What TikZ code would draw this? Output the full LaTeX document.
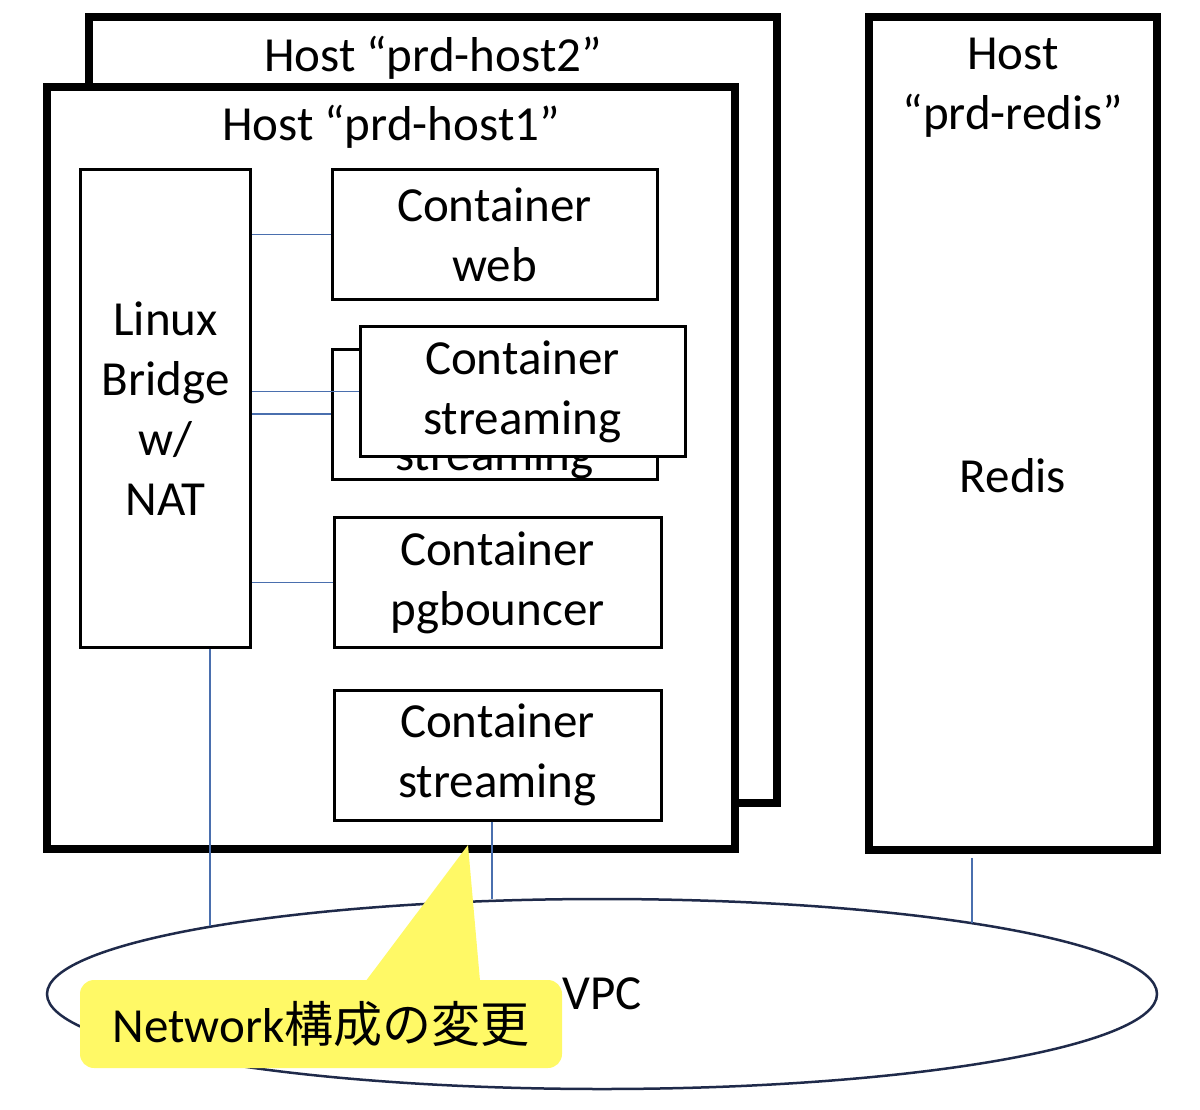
\documentclass[tikz,border=0pt]{standalone}
\usepackage{fontspec}
\setmainfont{Carlito}
\newfontfamily\jpfont{Noto Sans CJK JP}
\usetikzlibrary{positioning,shapes.geometric}
\definecolor{linkblue}{HTML}{4A6FAE}
\definecolor{vpcnavy}{HTML}{1F2A4A}
\definecolor{noteyellow}{HTML}{FFF966}

\begin{document}
\begin{tikzpicture}[x=1pt,y=-1pt,font=\fontsize{49}{60}\selectfont,
  hostbox/.style={draw,line width=7.5pt,fill=white,inner sep=0pt},
  ctrbox/.style={draw,line width=3pt,fill=white,align=center,inner sep=0pt,minimum width=325pt,minimum height=130pt},
  link/.style={draw=linkblue,line width=1.8pt}]
\useasboundingbox (0,0) rectangle (1200,1109);
% hosts
\node[hostbox,minimum width=688pt,minimum height=786pt] (host2) at (433,410) {};
\node (host2lbl) at (433,58) {Host “prd-host2”};
\node[hostbox,minimum width=688pt,minimum height=762pt] (host1) at (391,468) {};
\node (host1lbl) at (391,127) {Host “prd-host1”};
\node[hostbox,minimum width=288pt,minimum height=833pt] (redis) at (1013,433.5) {};
\node[align=center] (redislbl) at (1013,88) {Host\\“prd-redis”};
\node (redisapp) at (1013,476) {Redis};
% bridge and containers
\node[ctrbox,minimum width=170pt,minimum height=478pt] (bridge) at (165.5,408.5) {Linux\\Bridge\\w/\\NAT};
\node[ctrbox] (web) at (494.5,234.5) {Container\\web};
\node[ctrbox] (streamback) at (494.5,414) {};
\node[align=center] (streambacklbl) at (494.5,428) {Container\\streaming};
\node[ctrbox] (streamfront) at (522.5,391.5) {Container\\streaming};
\node[ctrbox,minimum width=327pt] (pgb) at (497.5,582.5) {Container\\pgbouncer};
\node[ctrbox,minimum width=327pt] (streambot) at (497.5,755) {Container\\streaming};
% vpc
\node[draw=vpcnavy,line width=2.5pt,ellipse,minimum width=1110pt,minimum height=190pt,inner sep=0pt] (vpc) at (602,994) {VPC};
\coordinate (vpcA) at (210,926);
\coordinate (vpcB) at (492,899);
\coordinate (vpcC) at (972,923);
% links
\draw[link] (bridge.east |- web.west) -- (web.west);
\draw[link] (bridge.east |- streamfront.west) -- (streamfront.west);
\draw[link] (bridge.east |- streamback.west) -- (streamback.west);
\draw[link] (bridge.east |- pgb.west) -- (pgb.west);
\draw[link] (bridge.south -| vpcA) -- (vpcA);
\draw[link] (streambot.south -| vpcB) -- (vpcB);
\draw[link,shorten <=4pt] (redis.south -| vpcC) -- (vpcC);
% callout
\node[fill=noteyellow,rounded corners=14pt,minimum width=482pt,minimum height=88pt,inner sep=0pt] (note) at (321,1024) {Network{\jpfont 構成の変更}};
\fill[noteyellow] ([xshift=45pt,yshift=-1pt]note.north) -- (468,845) -- ([xshift=159pt,yshift=-1pt]note.north) -- cycle;
\end{tikzpicture}
\end{document}
